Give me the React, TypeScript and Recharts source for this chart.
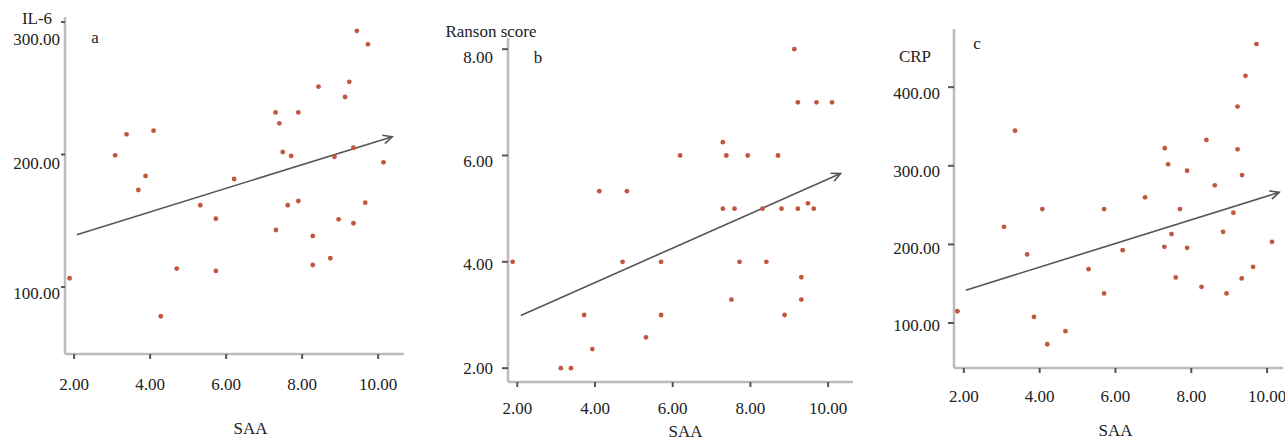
import React from 'react';
import { ScatterChart, Scatter, XAxis, YAxis, ReferenceLine } from 'recharts';

// panel a: SAA vs IL-6
const saaA = [9.44, 9.73, 9.24, 8.43, 9.13, 7.3, 7.9, 7.4, 3.38, 4.09, 3.08, 7.49, 7.71, 8.85, 9.35, 10.14, 3.88, 3.69, 6.21, 5.32, 7.62, 7.9, 9.66, 5.73, 7.31, 8.96, 9.35, 8.28, 8.74, 8.28, 4.7, 5.73, 1.88, 4.28];
const il6 = [293.4, 283.2, 254.9, 251.2, 243.4, 231.8, 231.8, 223.5, 215.2, 218.0, 199.4, 201.9, 198.9, 198.3, 205.1, 194.1, 183.8, 173.2, 181.5, 161.7, 161.7, 164.9, 163.6, 151.5, 143.0, 151.1, 148.1, 138.5, 121.7, 116.6, 113.9, 112.1, 106.6, 77.9];

// panel b: SAA vs Ranson score
const saaB = [9.13, 9.22, 9.7, 10.1, 7.29, 6.19, 7.38, 7.93, 8.71, 4.11, 4.82, 7.29, 7.59, 8.31, 8.8, 9.22, 9.48, 9.63, 1.88, 4.71, 5.7, 7.72, 8.41, 9.31, 7.51, 9.31, 3.72, 5.7, 8.88, 5.31, 3.93, 3.12, 3.38];
const ranson = [8, 7, 7, 7, 6.25, 6, 6, 6, 6, 5.33, 5.33, 5, 5, 5, 5, 5, 5.1, 5, 4, 4, 4, 4, 4, 3.71, 3.29, 3.29, 3, 3, 3, 2.58, 2.36, 2, 2];

// panel c: SAA vs CRP
const saaC = [9.72, 9.43, 9.22, 3.35, 8.4, 7.3, 9.22, 7.39, 7.89, 9.34, 8.62, 6.78, 4.07, 5.7, 7.7, 9.11, 3.06, 3.67, 7.48, 8.84, 10.13, 7.29, 7.89, 6.19, 5.29, 9.63, 7.59, 9.33, 8.27, 5.7, 8.93, 1.83, 3.85, 4.68, 4.2];
const crp = [454.8, 414.4, 375.3, 344.7, 332.9, 322.3, 321.0, 301.9, 293.7, 288.2, 275.2, 259.9, 245, 245, 245, 240.3, 222.4, 187.3, 213.1, 216.0, 203.3, 196.9, 195.7, 192.7, 168.5, 171.5, 158.0, 156.7, 146.0, 137.6, 137.6, 115.0, 107.8, 89.6, 73.0];

const xTicks = [2, 4, 6, 8, 10];
const il6Ticks = [100, 200, 300];
const ransonTicks = [2, 4, 6, 8];
const crpTicks = [100, 200, 300, 400];

// fitted lines, start and arrow end
const trendA = [{ x: 2.07, y: 139.5 }, { x: 10.37, y: 213.4 }];
const trendB = [{ x: 2.09, y: 2.99 }, { x: 10.32, y: 5.66 }];
const trendC = [{ x: 2.05, y: 141.8 }, { x: 10.32, y: 266.2 }];

const FONT = 'Liberation Serif, Times New Roman, serif';

const Dot = (props: any) => <circle cx={props.cx} cy={props.cy} r={2.4} fill="#c0573f" />;

const Arrow = (props: any) => {
  const { x1, y1, x2, y2 } = props;
  if (x1 == null || x2 == null) return null;
  const a = Math.atan2(y2 - y1, x2 - x1);
  const len = 10;
  const s = 0.45;
  const p1 = `${x2 - len * Math.cos(a - s)},${y2 - len * Math.sin(a - s)}`;
  const p2 = `${x2 - len * Math.cos(a + s)},${y2 - len * Math.sin(a + s)}`;
  return (
    <g>
      <line x1={x1} y1={y1} x2={x2} y2={y2} stroke="#555" strokeWidth={1.6} />
      <polyline points={`${p1} ${x2},${y2} ${p2}`} fill="none" stroke="#555" strokeWidth={1.6} />
    </g>
  );
};

interface PanelProps {
  left: number;
  width: number;
  top: number;
  right: number;
  plotBottom: number;
  yWidth: number;
  xDomain: [number, number];
  yDomain: [number, number];
  yTicks: number[];
  yLabelShift: number[];
  xs: number[];
  ys: number[];
  trend: { x: number; y: number }[];
  xTickMargin: number;
  yTickSize: number;
  yTickMargin: number;
  saaOffset: number;
  saaDx: number;
}

const Panel = (p: PanelProps) => {
  const data = p.xs.map((x, i) => ({ x, y: p.ys[i] }));
  const tickStyle = { fill: '#222', fontSize: 17, fontFamily: FONT };
  const YTick = (t: any) => {
    const i = p.yTicks.indexOf(t.payload.value);
    return (
      <text x={t.x} y={t.y} dy={6 + (p.yLabelShift[i] || 0)} textAnchor="end" {...tickStyle}>
        {Number(t.payload.value).toFixed(2)}
      </text>
    );
  };
  return (
    <div style={{ position: 'absolute', left: p.left, top: 0 }}>
      <ScatterChart width={p.width} height={441} margin={{ top: p.top, right: p.right, bottom: 0, left: 0 }}>
        <XAxis
          type="number"
          dataKey="x"
          domain={p.xDomain}
          ticks={xTicks}
          interval={0}
          allowDataOverflow
          height={441 - p.plotBottom}
          tickFormatter={(v: number) => v.toFixed(2)}
          tick={tickStyle}
          tickSize={5}
          tickMargin={p.xTickMargin}
          axisLine={{ stroke: '#bbb', strokeWidth: 2.5 }}
          tickLine={{ stroke: '#555', strokeWidth: 2 }}
          label={{ value: 'SAA', position: 'insideBottom', offset: p.saaOffset, dx: p.saaDx, fill: '#222', fontSize: 17, fontFamily: FONT }}
        />
        <YAxis
          type="number"
          dataKey="y"
          domain={p.yDomain}
          ticks={p.yTicks}
          interval={0}
          allowDataOverflow
          width={p.yWidth}
          tick={YTick}
          tickSize={p.yTickSize}
          tickMargin={p.yTickMargin}
          axisLine={{ stroke: '#bbb', strokeWidth: 2.5 }}
          tickLine={{ stroke: '#555', strokeWidth: 2 }}
        />
        <ReferenceLine segment={p.trend} shape={Arrow} />
        <Scatter data={data} shape={Dot} isAnimationActive={false} />
      </ScatterChart>
    </div>
  );
};

export default function App() {
  return (
    <div style={{ position: 'absolute', left: 0, top: 0, width: 1285, height: 441, overflow: 'hidden', background: '#fff' }}>
      <Panel left={0} width={420} top={17} right={16} plotBottom={354} yWidth={65}
        xDomain={[1.76, 10.68]} yDomain={[49.4, 303.8]} yTicks={il6Ticks} yLabelShift={[6, 8, 17]}
        xs={saaA} ys={il6} trend={trendA}
        xTickMargin={19} yTickSize={4} yTickMargin={1} saaOffset={7} saaDx={16} />
      <Panel left={430} width={430} top={38} right={7} plotBottom={382} yWidth={78}
        xDomain={[1.76, 10.64]} yDomain={[1.74, 8.21]} yTicks={ransonTicks} yLabelShift={[0, 2, 5, 8]}
        xs={saaB} ys={ranson} trend={trendB}
        xTickMargin={15} yTickSize={6} yTickMargin={9} saaOffset={4} saaDx={5} />
      <Panel left={860} width={425} top={29} right={2} plotBottom={368} yWidth={94}
        xDomain={[1.74, 10.42]} yDomain={[42.8, 474]} yTicks={crpTicks} yLabelShift={[2, 4, 5, 6]}
        xs={saaC} ys={crp} trend={trendC}
        xTickMargin={17} yTickSize={6} yTickMargin={8} saaOffset={5} saaDx={-3} />
      <svg width={1285} height={441} style={{ position: 'absolute', left: 0, top: 0, pointerEvents: 'none' }}>
        <g fill="#222" fontSize={17} fontFamily={FONT} textAnchor="middle">
          <text x={37} y={24}>IL-6</text>
          <text x={95} y={43}>a</text>
          <text x={491} y={37}>Ranson score</text>
          <text x={538} y={63}>b</text>
          <text x={915} y={62}>CRP</text>
          <text x={977} y={49}>c</text>
        </g>
      </svg>
    </div>
  );
}
